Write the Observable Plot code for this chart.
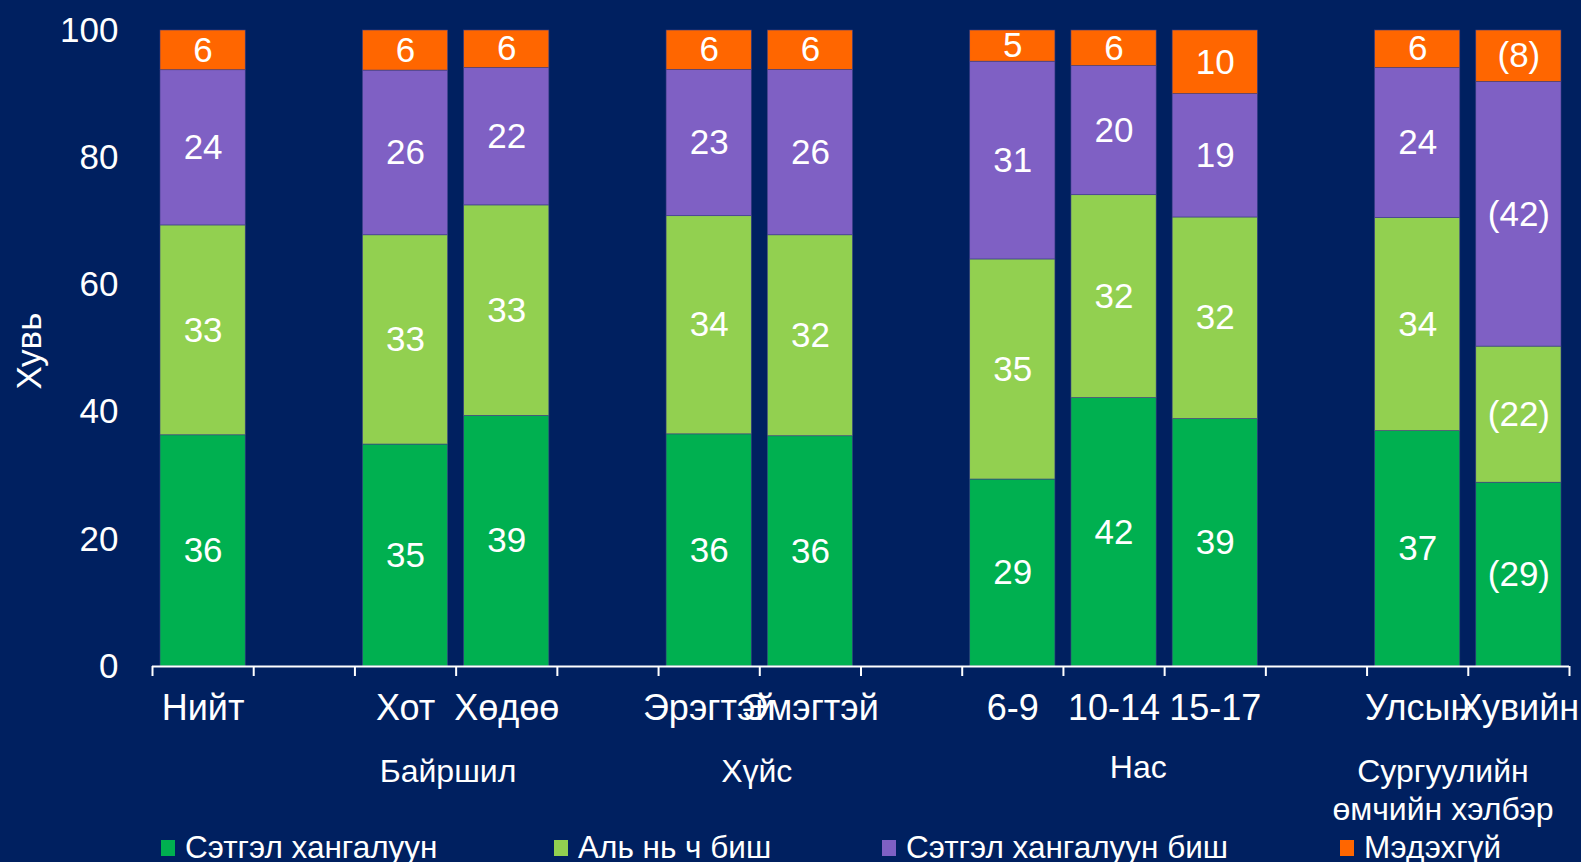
<!DOCTYPE html>
<html><head><meta charset="utf-8">
<script src="https://cdn.jsdelivr.net/npm/d3@7"></script>
<script src="https://cdn.jsdelivr.net/npm/@observablehq/plot@0.6"></script>
<style>
html,body{margin:0;padding:0;background:#002060;}
body{width:1581px;height:862px;overflow:hidden;font-family:"Liberation Sans",Arial,sans-serif;}
#legend{position:relative;height:37px;color:#fff;font-size:31.5px;}
.item{position:absolute;top:7px;display:flex;align-items:center;white-space:nowrap;line-height:31px;}
.sw{width:14px;height:16px;margin-right:10px;}
</style>
</head><body>
<div id="chart"></div>
<div id="legend"></div>
<script>
// Slots along the x axis ("" = empty spacer slot)
const slots = ["Нийт", "", "Хот", "Хөдөө", "", "Эрэгтэй", "Эмэгтэй", "", "6-9", "10-14", "15-17", "", "Улсын", "Хувийн"];
const categories = ["Нийт", "Хот", "Хөдөө", "Эрэгтэй", "Эмэгтэй", "6-9", "10-14", "15-17", "Улсын", "Хувийн"];
const series = ["Сэтгэл хангалуун", "Аль нь ч биш", "Сэтгэл хангалуун биш", "Мэдэхгүй"];
const colors = ["#00B050", "#92D050", "#7F60C4", "#FF6600"];

// segment sizes (percent)
const satisfied    = [36.35, 34.9, 39.4, 36.5, 36.2, 29.4, 42.2, 38.9, 37.0, 28.9];
const neither      = [33.0, 32.9, 33.1, 34.3, 31.6, 34.6, 31.9, 31.7, 33.5, 21.4];
const notSatisfied = [24.4, 25.9, 21.6, 23.0, 26.0, 31.1, 20.3, 19.4, 23.6, 41.6];
const dontKnow     = [6.25, 6.3, 5.9, 6.2, 6.2, 4.9, 5.6, 10.0, 5.9, 8.1];

// printed labels
const satisfiedLbl    = ["36", "35", "39", "36", "36", "29", "42", "39", "37", "(29)"];
const neitherLbl      = ["33", "33", "33", "34", "32", "35", "32", "32", "34", "(22)"];
const notSatisfiedLbl = ["24", "26", "22", "23", "26", "31", "20", "19", "24", "(42)"];
const dontKnowLbl     = ["6", "6", "6", "6", "6", "5", "6", "10", "6", "(8)"];

// group labels and their members
const groupLabels = ["Байршил", "Хүйс", "Нас", "Сургуулийн\nөмчийн хэлбэр"];
const groupMembers = [["Хот", "Хөдөө"], ["Эрэгтэй", "Эмэгтэй"], ["6-9", "10-14", "15-17"], ["Улсын", "Хувийн"]];

const yTicks = [0, 20, 40, 60, 80, 100];

// build table
const values = [satisfied, neither, notSatisfied, dontKnow];
const labels = [satisfiedLbl, neitherLbl, notSatisfiedLbl, dontKnowLbl];
const rows = [];
categories.forEach((c, i) => {
  const slot = slots.indexOf(c);
  let acc = 0;
  series.forEach((s, k) => {
    const v = values[k][i];
    rows.push({cat: c, slot, series: s, y1: acc, y2: acc + v, label: labels[k][i]});
    acc += v;
  });
});
const catRows = categories.map(c => ({cat: c, slot: slots.indexOf(c)}));
const groupOffsets = [-0.08, -0.03, 0.24, -0.25];
const groupRows = groupLabels.map((g, i) => {
  const idx = groupMembers[i].map(m => slots.indexOf(m));
  return {label: g, x: (d3.min(idx) + d3.max(idx) + 1) / 2 + groupOffsets[i], lifted: g === "Нас"};
});

const font = "'Liberation Sans', Arial, sans-serif";
const chart = Plot.plot({
  width: 1581,
  height: 825,
  marginLeft: 152,
  marginRight: 12,
  marginTop: 30,
  marginBottom: 159,
  style: {background: "#002060", color: "#fff", fontFamily: font, overflow: "visible"},
  x: {domain: [0, slots.length], label: null},
  y: {domain: [0, 100], label: null},
  color: {domain: series, range: colors},
  marks: [
    Plot.rect(rows, {x1: "slot", x2: d => d.slot + 1, y1: "y1", y2: "y2", fill: "series", insetLeft: 8, insetRight: 8, stroke: "#3b3f86", strokeWidth: 0.6}),
    Plot.text(rows, {x: d => d.slot + 0.5, y: d => (d.y1 + d.y2) / 2, text: "label", fill: "#fff", fontSize: 35, fontFamily: font}),
    Plot.axisY({ticks: yTicks, tickSize: 0, tickPadding: 34, fontSize: 35, fontFamily: font, fill: "#fff", label: null}),
    Plot.axisX({ticks: d3.range(0, slots.length + 1), tickSize: 10, tickFormat: () => "", stroke: "#fff", strokeWidth: 2, label: null}),
    Plot.ruleY([0], {stroke: "#fff", strokeWidth: 2}),
    Plot.text(catRows, {x: d => d.slot + 0.5, y: 0, text: "cat", dy: 42, fill: "#fff", fontSize: 36, fontFamily: font}),
    Plot.text(groupRows.filter(d => !d.lifted), {x: "x", y: 0, text: "label", lineAnchor: "top", dy: 89, lineHeight: 1.17, fill: "#fff", fontSize: 32, fontFamily: font}),
    Plot.text(groupRows.filter(d => d.lifted), {x: "x", y: 0, text: "label", lineAnchor: "top", dy: 89, fill: "#fff", fontSize: 32, fontFamily: font}),
    Plot.text(["Хувь"], {frameAnchor: "left", dx: -123, dy: 41, rotate: -90, fill: "#fff", fontSize: 35, fontFamily: font})
  ]
});
document.getElementById("chart").appendChild(chart);

// legend
const legendX = [161, 554, 882, 1340];
const legend = document.getElementById("legend");
series.forEach((s, i) => {
  const item = document.createElement("div");
  item.className = "item";
  item.style.left = legendX[i] + "px";
  item.innerHTML = `<span class="sw" style="background:${colors[i]}"></span><span>${s}</span>`;
  legend.appendChild(item);
});
</script>
</body></html>
